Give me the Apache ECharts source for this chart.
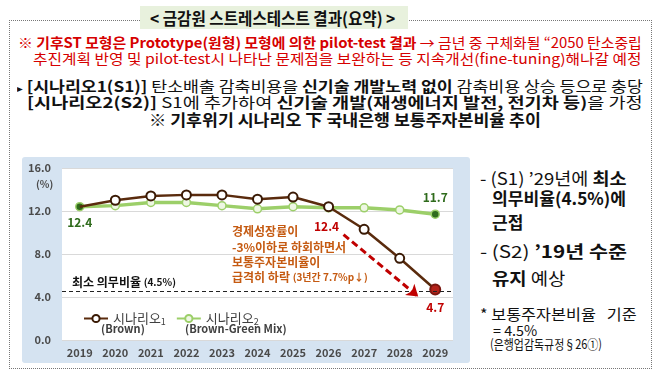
<!DOCTYPE html>
<html>
<head>
<meta charset="utf-8">
<script src="https://cdn.jsdelivr.net/npm/echarts@6/dist/echarts.min.js"></script>
<style>
  html, body { margin: 0; padding: 0; background: #fff; }
  #page { position: relative; width: 658px; height: 375px; overflow: hidden; font-family: 'Noto Sans CJK KR', sans-serif; }
  .frame { position: absolute; left: 9px; top: 20px; width: 641px; height: 347px; border: 1px dotted #777; }
  .tbox { position: absolute; left: 140px; top: 6px; width: 268px; height: 23px; background: #e8f1dd; }
  .t { position: absolute; white-space: pre; line-height: 1; transform-origin: 0 50%; color: #111; }
  .red { color: #d60000; }
  #chart { position: absolute; left: 22px; top: 157px; width: 448px; height: 206px; background: #d5e3f1; border-radius: 3px; }
</style>
</head>
<body>
<div id="page">
  <div class="frame"></div>
  <div class="tbox"></div>
  <div class="t" data-x="150" data-y="17" data-w="245" style="font-size:17px;font-weight:bold">&lt; 금감원 스트레스테스트 결과(요약) &gt;</div>

  <div class="t red" data-x="18" data-y="42" data-w="624" style="font-size:14px"><b>※ 기후ST 모형은 Prototype(원형) 모형에 의한 pilot-test 결과</b> → 금년 중 구체화될 “2050 탄소중립</div>
  <div class="t red" data-x="33" data-y="58" data-w="609" style="font-size:14px">추진계획 반영 및 pilot-test시 나타난 문제점을 보완하는 등 지속개선(fine-tuning)해나갈 예정</div>

  <div class="t" data-x="17" data-y="85" data-w="626" style="font-size:15px"><span style="font-size:10px">▸</span> <b>[시나리오1(S1)]</b> 탄소배출 감축비용을 <b>신기술 개발노력 없이</b> 감축비용 상승 등으로 충당</div>
  <div class="t" data-x="27" data-y="101" data-w="616" style="font-size:15px"><b>[시나리오2(S2)]</b> S1에 추가하여 <b>신기술 개발(재생에너지 발전, 전기차 등)</b>을 가정</div>
  <div class="t" data-x="149" data-y="119" data-w="392" style="font-size:16px;font-weight:bold">※ 기후위기 시나리오 下 국내은행 보통주자본비율 추이</div>

  <div class="t" data-x="480" data-y="177" data-w="147" style="font-size:17px">- (S1) ’29년에 <b>최소</b></div>
  <div class="t" data-x="492" data-y="197" data-w="134" style="font-size:17px;font-weight:bold">의무비율(4.5%)에</div>
  <div class="t" data-x="492" data-y="221" style="font-size:17px;font-weight:bold">근접</div>
  <div class="t" data-x="480" data-y="250" data-w="147" style="font-size:17px">- (S2) <b>’19년 수준</b></div>
  <div class="t" data-x="492" data-y="277" data-w="73" style="font-size:17px"><b>유지</b> 예상</div>
  <div class="t" data-x="480" data-y="313" data-w="157" style="font-size:15px">* 보통주자본비율   기준</div>
  <div class="t" data-x="493" data-y="330" data-w="44" style="font-size:14px">= 4.5%</div>
  <div class="t" data-x="490" data-y="343" data-w="112" style="font-size:13px">(은행업감독규정§26①)</div>

  <div id="chart"></div>
</div>
<script>
// 데이터
var years = ['2019', '2020', '2021', '2022', '2023', '2024', '2025', '2026', '2027', '2028', '2029'];
var scenario1 = [12.4, 13.0, 13.4, 13.5, 13.5, 13.1, 13.3, 12.4, 10.3, 7.6, 4.7];
var scenario2 = [12.4, 12.5, 12.8, 12.8, 12.5, 12.2, 12.4, 12.3, 12.3, 12.1, 11.7];
var yMin = 0, yMax = 16, yStep = 4;
var minRatio = 4.5;
var seriesNames = ['시나리오1', '시나리오2'];
// 화살표 시작/끝 (카테고리 인덱스, 값)
var arrowFrom = [7.42, 9.8];
var arrowTo = [9.52, 4.05];

// 텍스트 배치
document.querySelectorAll('.t').forEach(function (el) {
  el.style.left = el.dataset.x + 'px';
  el.style.top = (el.dataset.y - el.offsetHeight / 2) + 'px';
  if (el.dataset.w) {
    el.style.transform = 'scaleX(' + (el.dataset.w / el.offsetWidth) + ')';
  }
});

var brown = '#5a2b0d';
var green = '#9ccf69';
var darkGreen = '#2f6b1c';
var darkRed = '#c00000';

var s1Data = scenario1.map(function (v, i) {
  var d = { value: v };
  if (i === 0) d.symbol = 'none';
  if (i === 7) {
    d.label = { show: true, position: 'bottom', offset: [-2, 3], color: darkRed, fontWeight: 'bold', fontSize: 12 };
  }
  if (i === scenario1.length - 1) {
    d.symbolSize = 10;
    d.itemStyle = { color: '#b3221a', borderColor: '#7a160f' };
    d.label = { show: true, position: 'bottom', offset: [0, 1], color: darkRed, fontWeight: 'bold', fontSize: 12 };
  }
  return d;
});

var s2Data = scenario2.map(function (v, i) {
  var d = { value: v };
  if (i === 0) {
    d.itemStyle = { color: darkGreen, borderColor: green };
    d.label = { show: true, position: 'bottom', offset: [0, 0], color: darkGreen, fontWeight: 'bold', fontSize: 12 };
  }
  if (i === scenario2.length - 1) {
    d.itemStyle = { color: darkGreen, borderColor: green };
    d.label = { show: true, position: 'top', offset: [0, -1], color: darkGreen, fontWeight: 'bold', fontSize: 12 };
  }
  return d;
});

var chart = echarts.init(document.getElementById('chart'));
var option = {
  animation: false,
  textStyle: { fontFamily: 'Noto Sans CJK KR' },
  grid: { left: 40, right: 17, top: 11, bottom: 23, show: true, backgroundColor: '#fff', borderWidth: 0 },
  legend: {
    data: seriesNames,
    left: 56, top: 150,
    itemWidth: 24, itemHeight: 9, itemGap: 10,
    formatter: function (name) { return name.replace(/(\d)$/, '{s|$1}'); },
    textStyle: { fontSize: 13, color: '#404040', rich: { s: { fontSize: 9, padding: [7, 0, 0, 0], color: '#404040' } } }
  },
  xAxis: {
    type: 'category',
    data: years,
    boundaryGap: true,
    axisLine: { show: false },
    axisTick: { show: false },
    axisLabel: { color: '#4a4a4a', fontSize: 11, fontWeight: 'bold', margin: 7 }
  },
  yAxis: {
    type: 'value',
    min: yMin, max: yMax, interval: yStep,
    axisLine: { show: false },
    axisTick: { show: false },
    axisLabel: { color: '#4a4a4a', fontSize: 11, fontWeight: 'bold', margin: 11, formatter: function (v) { return v.toFixed(1); } },
    splitLine: { lineStyle: { color: '#d9d9d9' } }
  },
  graphic: [
    { type: 'text', left: 14, top: 22, style: { text: '(%)', fill: '#4a4a4a', font: 'bold 10px "Noto Sans CJK KR"' } },
    { type: 'text', left: 79, top: 166, style: { text: '(Brown)', fill: '#404040', font: 'bold 11px "Noto Sans CJK KR"' } },
    { type: 'text', left: 163, top: 166, style: { text: '(Brown-Green Mix)', fill: '#404040', font: 'bold 11px "Noto Sans CJK KR"' } },
    {
      type: 'text', left: 210, top: 67,
      style: {
        text: '경제성장률이\n-3%이하로 하회하면서\n보통주자본비율이\n급격히 하락 {s|(3년간 7.7%p↓)}',
        fill: '#c55a11', font: 'bold 12px "Noto Sans CJK KR"', lineHeight: 15.3,
        rich: { s: { fontSize: 10, fontWeight: 'bold', fill: '#c55a11', fontFamily: 'Noto Sans CJK KR' } }
      }
    }
  ],
  series: [
    {
      id: 's2', name: seriesNames[1], type: 'line', z: 2,
      data: s2Data,
      symbol: 'circle', symbolSize: 8,
      lineStyle: { color: green, width: 3.5 },
      itemStyle: { color: '#eef7e3', borderColor: green, borderWidth: 1.5 }
    },
    {
      id: 's1', name: seriesNames[0], type: 'line', z: 3,
      data: s1Data,
      symbol: 'circle', symbolSize: 9,
      lineStyle: { color: brown, width: 2.5 },
      itemStyle: { color: '#fff', borderColor: '#3a1a05', borderWidth: 2 },
      markLine: {
        silent: true, symbol: 'none', animation: false,
        lineStyle: { color: '#222', type: [4, 3], width: 1 },
        label: {
          show: true, position: 'insideStartTop', distance: [10, 3],
          formatter: '최소 의무비율 {s|(4.5%)}',
          color: '#111', fontWeight: 'bold', fontSize: 12,
          rich: { s: { fontSize: 10, fontWeight: 'bold', color: '#111' } }
        },
        data: [{ yAxis: minRatio }]
      }
    }
  ]
};
chart.setOption(option);

// 화살표: 축 스케일로 픽셀 위치 계산
function toPx(pt) {
  var i0 = Math.floor(pt[0]), f = pt[0] - i0;
  var a = chart.convertToPixel({ gridIndex: 0 }, [i0, pt[1]]);
  var b = chart.convertToPixel({ gridIndex: 0 }, [i0 + 1, pt[1]]);
  return [a[0] + (b[0] - a[0]) * f, a[1]];
}
var p0 = toPx(arrowFrom), p1 = toPx(arrowTo);
chart.setOption({
  series: [{
    id: 's2',
    markLine: {
      silent: true, animation: false,
      symbol: ['none', 'arrow'], symbolSize: 11,
      lineStyle: { color: darkRed, width: 3, type: [7, 4] },
      label: { show: false },
      data: [[{ x: p0[0], y: p0[1] }, { x: p1[0], y: p1[1] }]]
    }
  }]
});
</script>
</body>
</html>
